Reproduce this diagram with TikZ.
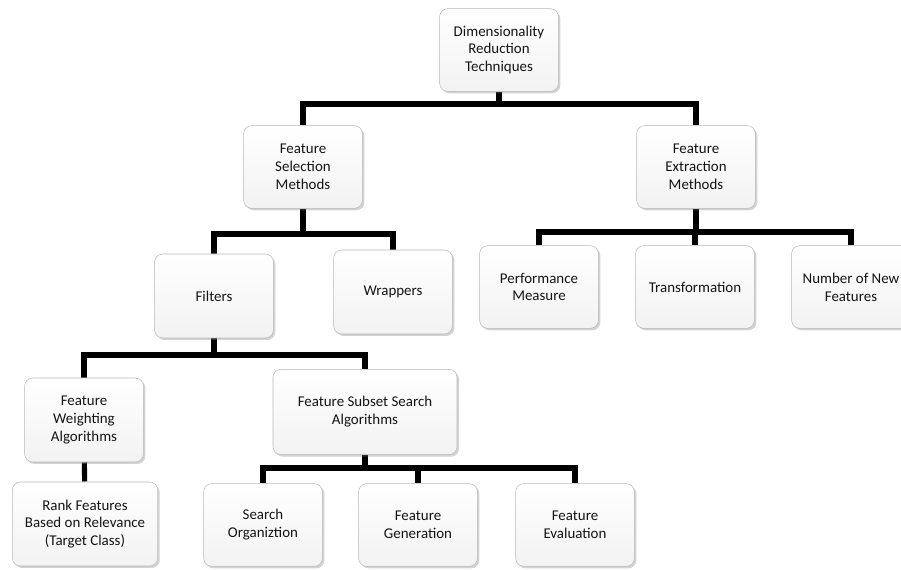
\documentclass[tikz,border=0pt]{standalone}
\usepackage{fontspec}
\setmainfont{Carlito}
\usetikzlibrary{shadows,backgrounds}

\tikzset{
  box/.style={draw=gray!55, rounded corners=6pt, top color=white, bottom color=gray!10,
    drop shadow={shadow xshift=1.5pt, shadow yshift=-1.5pt, opacity=0.35, fill=gray},
    align=center, font=\fontsize{11.2}{13.4}\selectfont, text=black!92,
    minimum width=89pt, minimum height=62pt, inner sep=2pt},
  conn/.style={line width=3.8pt, black}
}

\begin{document}
\begin{tikzpicture}[x=0.75pt, y=-0.75pt]

    \useasboundingbox (0,0) rectangle (901,570);

    % Top level
    \node[box] (root) at (499,50) {Dimensionality\\Reduction\\Techniques};

    % Second level
    \node[box] (fsel) at (303,167) {Feature\\Selection\\Methods};
    \node[box] (fext) at (696,167) {Feature\\Extraction\\Methods};

    % Feature selection branch
    \node[box, minimum height=63pt] (filt) at (214,296) {Filters};
    \node[box, minimum height=63pt] (wrap) at (393,292) {Wrappers};

    % Feature extraction branch
    \node[box] (perf) at (539,287) {Performance\\Measure};
    \node[box] (trans) at (695,287) {Transformation};
    \node[box] (numf) at (851,287) {Number of New\\Features};

    % Filters branch
    \node[box, minimum height=63pt] (fwa) at (84,420) {Feature\\Weighting\\Algorithms};
    \node[box, minimum width=138pt, minimum height=64pt] (fss) at (365,412) {Feature Subset Search\\Algorithms};

    % Bottom level
    \node[box, minimum width=109pt, minimum height=63pt] (rank) at (85,524) {Rank Features\\Based on Relevance\\(Target Class)};
    \node[box] (sorg) at (263,525) {Search\\Organiztion};
    \node[box] (fgen) at (418,525) {Feature\\Generation};
    \node[box] (feval) at (575,525) {Feature\\Evaluation};

    % Junction points
    \coordinate (j1) at (499,104);
    \coordinate (j2) at (303,234);
    \coordinate (j3) at (696,232);
    \coordinate (j4) at (214,355);
    \coordinate (j5) at (365,468);

    % Connectors
    \begin{scope}[on background layer]
      \draw[conn] (root) -- (j1);
      \draw[conn] (j1) -| (fsel);
      \draw[conn] (j1) -| (fext);

      \draw[conn] (fsel) -- (j2);
      \draw[conn] (j2) -| (filt);
      \draw[conn] (j2) -| (wrap);

      \draw[conn] (fext) -- (j3);
      \draw[conn] (j3) -| (perf);
      \draw[conn] (j3) -| (trans);
      \draw[conn] (j3) -| (numf);

      \draw[conn] (filt) -- (j4);
      \draw[conn] (j4) -| (fwa);
      \draw[conn] (j4) -| (fss);

      \draw[conn] (fwa) -- (rank);

      \draw[conn] (fss) -- (j5);
      \draw[conn] (j5) -| (sorg);
      \draw[conn] (j5) -| (fgen);
      \draw[conn] (j5) -| (feval);
    \end{scope}

\end{tikzpicture}
\end{document}
